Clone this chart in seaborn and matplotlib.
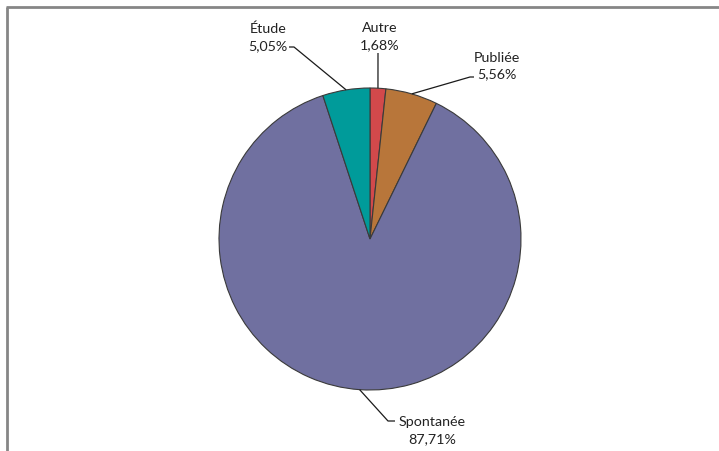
import numpy as np
import matplotlib
matplotlib.use("Agg")
import matplotlib.pyplot as plt
import seaborn as sns

# ---- data ----
categories = ["Autre", "Publiée", "Spontanée", "Étude"]
shares = [1.68, 5.56, 87.71, 5.05]
labels_pct = ["1,68%", "5,56%", "87,71%", "5,05%"]
colors = ["#D2494B", "#B8763A", "#7070A0", "#009B9A"]

sns.set_theme(style="white")
plt.rcParams["font.family"] = ["Lato", "DejaVu Sans"]

W, H = 719, 452
fig = plt.figure(figsize=(W / 100, H / 100), dpi=100)
ax = fig.add_axes([0, 0, 1, 1])

cx, cy, R = 370, H - 240, 151
start = 90
wedges, _ = ax.pie(shares, colors=colors, startangle=start, counterclock=False,
                   center=(cx, cy), radius=R, frame=True,
                   wedgeprops=dict(edgecolor="#3a3a3a", linewidth=0.8))
ax.set_xlim(0, W)
ax.set_ylim(0, H)
ax.axis("off")

# label layout (pixel positions: text centre, elbow, elbow end)
layout = {
    "Autre":     dict(text=(380, 37), path=[(378, 54)]),
    "Publiée":   dict(text=(497, 66), path=[(474, 78), (470, 78)]),
    "Spontanée": dict(text=(432, 431), path=[(395, 422), (388, 422)]),
    "Étude":     dict(text=(268, 37), path=[(289, 48), (294, 48)]),
}

cum = 0.0
total = sum(shares)
for cat, val, pct in zip(categories, shares, labels_pct):
    mid = start - (cum + val / 2) / total * 360
    cum += val
    ex = cx + R * np.cos(np.radians(mid))
    ey = cy + R * np.sin(np.radians(mid))
    lay = layout[cat]
    pts = [(px, H - py) for px, py in lay["path"]] + [(ex, ey)]
    xs, ys = zip(*pts)
    ax.plot(xs, ys, color="#1a1a1a", linewidth=0.9, solid_capstyle="butt")
    tx, ty = lay["text"]
    ax.text(tx, H - ty, f"{cat}\n{pct}", ha="center", va="center",
            fontsize=10.3, color="#222222", linespacing=1.5)

# frame
ax.plot([6, W], [H - 8, H - 8], color="#868686", linewidth=2.0, solid_capstyle="butt")
ax.plot([7, 7], [H - 8, 0], color="#868686", linewidth=2.0, solid_capstyle="butt")

fig.savefig("out.png", dpi=100)
